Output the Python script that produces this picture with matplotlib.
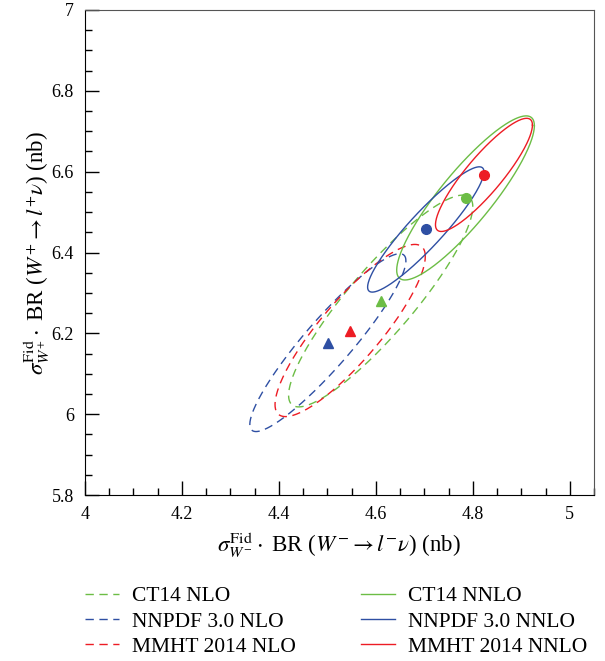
import numpy as np
import matplotlib
matplotlib.use('Agg')
import matplotlib.pyplot as plt
from matplotlib.ticker import MultipleLocator

plt.rcParams['font.family'] = ['Liberation Serif', 'DejaVu Serif']
plt.rcParams['mathtext.fontset'] = 'stix'

# PDF sets, order = legend order (NLO column, then NNLO column)
labels = ['CT14 NLO', 'NNPDF 3.0 NLO', 'MMHT 2014 NLO',
          'CT14 NNLO', 'NNPDF 3.0 NNLO', 'MMHT 2014 NNLO']
colors = ['#6cbd45', '#2e4fa3', '#ed1c24', '#6cbd45', '#2e4fa3', '#ed1c24']
styles = ['--', '--', '--', '-', '-', '-']
markers = ['^', '^', '^', 'o', 'o', 'o']

# central values (nb)
x_center = [4.610, 4.501, 4.547, 4.785, 4.703, 4.823]
y_center = [6.280, 6.177, 6.207, 6.535, 6.457, 6.592]
# uncertainties and correlation
x_sigma = [0.190, 0.161, 0.155, 0.142, 0.120, 0.100]
y_sigma = [0.262, 0.220, 0.213, 0.203, 0.155, 0.140]
rho = [0.89, 0.92, 0.86, 0.88, 0.92, 0.88]

fig = plt.figure(figsize=(6.05, 6.61), dpi=100)
ax = fig.add_axes([0.1405, 0.2511, 0.8413, 0.7338])

t = np.linspace(0, 2 * np.pi, 300)
for i in range(len(labels)):
    ex = x_center[i] + x_sigma[i] * np.cos(t)
    ey = y_center[i] + y_sigma[i] * (rho[i] * np.cos(t) + np.sqrt(1 - rho[i] ** 2) * np.sin(t))
    line, = ax.plot(ex, ey, color=colors[i], lw=1.0, label=labels[i])
    if styles[i] == '--':
        line.set_dashes([6, 4])
for i in range(len(labels)):
    ax.plot(x_center[i], y_center[i], marker=markers[i], color=colors[i],
            ms=7, ls='none')

ax.set_xlim(4, 5.05)
ax.set_ylim(5.8, 7)
ax.xaxis.set_minor_locator(MultipleLocator(0.05))
ax.yaxis.set_minor_locator(MultipleLocator(0.05))
ax.set_xticks([4, 4.2, 4.4, 4.6, 4.8, 5])
ax.set_xticklabels(['4', '4.2', '4.4', '4.6', '4.8', '5'])
ax.set_yticks([5.8, 6, 6.2, 6.4, 6.6, 6.8, 7])
ax.set_yticklabels(['5.8', '6', '6.2', '6.4', '6.6', '6.8', '7'])
ax.tick_params(which='both', direction='in', top=False, right=False, labelsize=13, pad=8)
ax.tick_params(which='major', length=10, width=1)
ax.tick_params(which='minor', length=5, width=1)
for s in ['top', 'right']:
    ax.spines[s].set_color('#555555')
    ax.spines[s].set_linewidth(0.8)

ax.set_xlabel(r'$\sigma^{\rm Fid}_{W^{-}}\cdot$ BR ($W^{-}\rightarrow l^{-}\nu$) (nb)', fontsize=16.5, labelpad=5)
ax.set_ylabel(r'$\sigma^{\rm Fid}_{W^{+}}\cdot$ BR ($W^{+}\rightarrow l^{+}\nu$) (nb)', fontsize=16.5, labelpad=0)

handles, labs = ax.get_legend_handles_labels()
fig.legend(handles, labs, loc='upper left', bbox_to_anchor=(85 / 605, 1 - 586 / 661), ncol=2,
           frameon=False, fontsize=15.5, borderpad=0, borderaxespad=0,
           handlelength=1.6, handletextpad=0.56, columnspacing=3.05, labelspacing=0.25)

fig.savefig('out.png', dpi=100)
